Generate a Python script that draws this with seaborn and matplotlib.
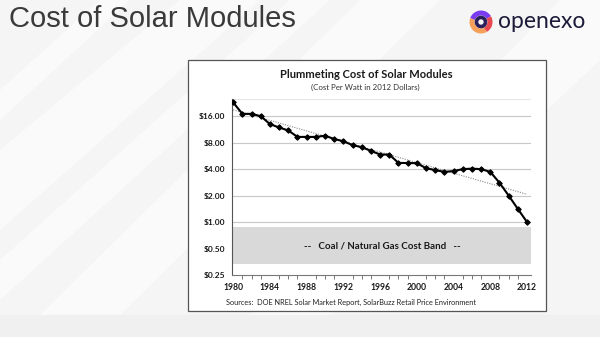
import numpy as np
import pandas as pd
import matplotlib
matplotlib.use("Agg")
import matplotlib.pyplot as plt
import matplotlib.patches as mpatches
import seaborn as sns
from matplotlib.ticker import FixedLocator, FixedFormatter, MultipleLocator

# ---- data ----
years = [1980, 1981, 1982, 1983, 1984, 1985, 1986, 1987, 1988, 1989, 1990,
         1991, 1992, 1993, 1994, 1995, 1996, 1997, 1998, 1999, 2000, 2001,
         2002, 2003, 2004, 2005, 2006, 2007, 2008, 2009, 2010, 2011, 2012]
cost = [22.9, 17.0, 17.0, 16.0, 13.0, 11.9, 11.0, 9.3, 9.3, 9.3, 9.6,
        8.8, 8.3, 7.5, 7.1, 6.45, 5.86, 5.86, 4.7, 4.7, 4.67, 4.1,
        3.9, 3.72, 3.8, 4.0, 4.05, 4.0, 3.72, 2.8, 2.0, 1.41, 1.0]
trend_years = [1980, 2012]
trend_values = [18.9, 2.07]
band_low, band_high = 0.336, 0.89
y_ticks = [0.25, 0.5, 1, 2, 4, 8, 16]
y_labels = ["$0.25", "$0.50", "$1.00", "$2.00", "$4.00", "$8.00", "$16.00"]
x_ticks = [1980, 1984, 1988, 1992, 1996, 2000, 2004, 2008, 2012]

df = pd.DataFrame({"year": years, "cost": cost})
tr = pd.DataFrame({"year": trend_years, "cost": trend_values})

sns.set_style("white")
plt.rcParams["font.family"] = ["Lato", "DejaVu Sans"]

W, H = 600, 337
fig = plt.figure(figsize=(6, 3.37), dpi=100, facecolor="#f6f6f6")

# ---- slide background ----
bg = fig.add_axes([0, 0, 1, 1], zorder=-10)
bg.set_xlim(0, W); bg.set_ylim(H, 0); bg.axis("off")
bg.add_patch(mpatches.Rectangle((0, 0), W, H, color="#f5f5f5", zorder=0))
streaks = [
    [(0, 150), (0, 230), (260, 0), (180, 0)],
    [(0, 260), (0, 300), (330, 0), (290, 0)],
    [(40, 315), (120, 315), (440, 0), (360, 0)],
    [(250, 315), (330, 315), (600, 60), (600, 0), (560, 0)],
    [(0, 90), (0, 120), (130, 0), (100, 0)],
]
for pts in streaks:
    bg.add_patch(mpatches.Polygon(pts, closed=True, color="white", alpha=0.55, lw=0, zorder=1))
bg.add_patch(mpatches.Rectangle((0, 315), W, 22, color="#f0f0f0", zorder=2))
# chart panel
bg.add_patch(mpatches.Rectangle((188, 60), 357.5, 250.5, facecolor="white",
                                edgecolor="#555555", lw=0.9, zorder=3))

# slide title
fig.text(9 / W, 1 - 19 / H, "Cost of Solar Modules", family="Liberation Sans",
         fontsize=21, color="#3a3a3a", va="center", ha="left")
# logo
cx, cy = 481, 22
for (r, th1, th2, col, lw) in [(9, 60, 200, "#f6a05a", 3.6), (9, 200, 330, "#7a3cf0", 3.6),
                               (9, 330, 420, "#e8484f", 3.6), (4.5, 0, 360, "#2b1f5c", 2.6)]:
    bg.add_patch(mpatches.Arc((cx, cy), 2 * r, 2 * r, theta1=th1, theta2=th2,
                              color=col, lw=lw, zorder=4))
fig.text(498 / W, 1 - 21 / H, "openexo", family="Lato", fontsize=16.5,
         color="#1c1c3a", va="center", ha="left")

# ---- chart ----
ax = fig.add_axes([232.3 / W, 1 - 275 / H, (530.7 - 232.3) / W, (275 - 99.3) / H])
ax.set_facecolor("none")
ax.set_yscale("log", base=2)
ax.set_ylim(0.25, 24.9)
ax.set_xlim(1979.9, 2012.4)

ax.axhspan(band_low, band_high, color="#d9d9d9", lw=0, zorder=0.5)
for v in y_ticks[1:]:
    ax.axhline(v, color="#c8c8c8", lw=0.8, zorder=0.3)
ax.axhline(24.9, color="#e6e6e6", lw=0.8, zorder=0.3)

sns.lineplot(data=tr, x="year", y="cost", ax=ax, color="#8a8a8a", lw=0.8,
             linestyle=(0, (1, 1.2)), zorder=2)
sns.lineplot(data=df, x="year", y="cost", ax=ax, color="black", lw=1.5,
             marker="D", markersize=2.8, markeredgecolor="black", zorder=3)

ax.text(1996.2, 0.54, "--   Coal / Natural Gas Cost Band   --", ha="center",
        va="center", fontsize=7, fontweight="bold", color="#1a1a1a")

ax.yaxis.set_major_locator(FixedLocator(y_ticks))
ax.yaxis.set_major_formatter(FixedFormatter(y_labels))
ax.yaxis.set_minor_locator(FixedLocator([]))
ax.set_xticks(x_ticks)
ax.xaxis.set_minor_locator(MultipleLocator(1))
ax.tick_params(axis="y", length=0, pad=5, labelsize=6, labelcolor="#1a1a1a")
ax.tick_params(axis="x", which="major", length=3, width=0.7, color="#777777",
               pad=3, labelsize=6.2, labelcolor="#1a1a1a", direction="out")
ax.tick_params(axis="x", which="minor", length=3, width=0.7, color="#777777",
               direction="out", bottom=True)
for lbl in ax.get_xticklabels() + ax.get_yticklabels():
    lbl.set_fontweight("bold")
for s in ["top", "right"]:
    ax.spines[s].set_visible(False)
ax.spines["left"].set_color("#555555"); ax.spines["left"].set_linewidth(0.8)
ax.spines["bottom"].set_color("#777777"); ax.spines["bottom"].set_linewidth(0.8)
ax.set_xlabel(""); ax.set_ylabel("")

fig.text(366.7 / W, 1 - 74 / H, "Plummeting Cost of Solar Modules", ha="center",
         va="center", fontsize=8, fontweight="bold", color="#1a1a1a")
fig.text(365.7 / W, 1 - 87.3 / H, "(Cost Per Watt in 2012 Dollars)", ha="center",
         va="center", fontsize=5.7, color="#333333")
fig.text(225.7 / W, 1 - 302.3 / H,
         "Sources:  DOE NREL Solar Market Report, SolarBuzz Retail Price Environment",
         ha="left", va="center", fontsize=5.3, color="#222222")

fig.savefig("out.png", dpi=100, facecolor=fig.get_facecolor())
